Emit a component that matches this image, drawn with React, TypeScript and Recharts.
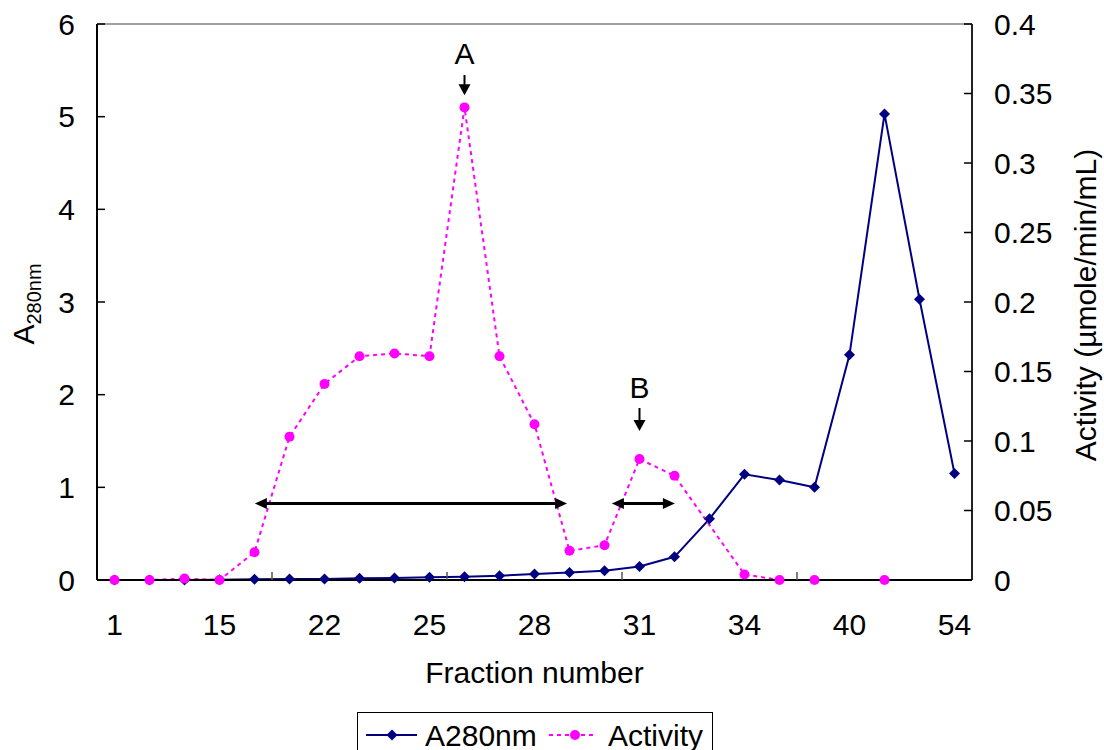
import React from 'react';
import { ComposedChart, Line, XAxis, YAxis, ReferenceLine, Legend } from 'recharts';

const fractions = [1, 5, 10, 15, 18, 20, 22, 23, 24, 25, 26, 27, 28, 29, 30, 31, 32, 33, 34, 36, 38, 40, 42, 46, 54];
const a280 = [0, 0, 0, 0.004, 0.008, 0.01, 0.012, 0.018, 0.022, 0.029, 0.036, 0.046, 0.065, 0.08, 0.1, 0.145, 0.25, 0.66, 1.14, 1.08, 1.0, 2.43, 5.03, 3.03, 1.15];
const activity: (number | null)[] = [0, 0, 0.001, 0, 0.02, 0.103, 0.141, 0.161, 0.163, 0.161, 0.34, 0.161, 0.112, 0.021, 0.025, 0.087, 0.075, null, 0.004, 0, 0, null, 0, null, null];
const seriesNames = ['A280nm', 'Activity'];
const leftTicks = [0, 1, 2, 3, 4, 5, 6];
const rightTicks = [0, 0.05, 0.1, 0.15, 0.2, 0.25, 0.3, 0.35, 0.4];
const labelIndices = [0, 3, 6, 9, 12, 15, 18, 21, 24];
const tickMarkIndices = [4.5, 9.5, 14.5, 19.5];

const spanAnnotations = [
  { from: 4.01, to: 12.93, level: 0.825 },
  { from: 14.21, to: 16.01, level: 0.825 },
];
const peakAnnotations = [
  { label: 'A', at: 10, top: 5.45, tip: 5.23 },
  { label: 'B', at: 15, top: 1.856, tip: 1.608 },
];

const data = fractions.map((f, i) => ({ idx: i, fraction: f, a280: a280[i], activity: activity[i] }));

const FONT = '"Liberation Sans", Arial, Helvetica, sans-serif';
const NAVY = '#000080';
const PINK = '#FF00FF';
const FS = 30;

const XTick = (props: any) => {
  const { x, y, payload } = props;
  const v = payload.value;
  if (Number.isInteger(v)) {
    return (
      <text x={x} y={y + 44} dy="0.35em" textAnchor="middle" fontSize={FS} fontFamily={FONT} fill="#000">
        {fractions[v]}
      </text>
    );
  }
  return <line x1={x} y1={y} x2={x} y2={y - 8} stroke="#555" strokeWidth={1.5} />;
};

const LeftTick = (props: any) => {
  const { x, y, payload } = props;
  return (
    <g>
      <line x1={x} y1={y} x2={x + 8} y2={y} stroke="#000" strokeWidth={1.5} />
      <text x={x - 22} y={y} dy="0.35em" textAnchor="end" fontSize={FS} fontFamily={FONT} fill="#000">
        {payload.value}
      </text>
    </g>
  );
};

const RightTick = (props: any) => {
  const { x, y, payload } = props;
  return (
    <g>
      <line x1={x - 8} y1={y} x2={x} y2={y} stroke="#000" strokeWidth={1.5} />
      <text x={x + 22} y={y} dy="0.35em" textAnchor="start" fontSize={FS} fontFamily={FONT} fill="#000">
        {String(payload.value)}
      </text>
    </g>
  );
};

const LeftTitle = () => (
  <text x={34} y={304} transform="rotate(-90, 34, 304)" textAnchor="middle" fontSize={FS} fontFamily={FONT} fill="#000">
    A<tspan fontSize={20} dy={7}>280nm</tspan>
  </text>
);

const RightTitle = () => (
  <text x={1096} y={305} transform="rotate(-90, 1096, 305)" textAnchor="middle" fontSize={FS} fontFamily={FONT} fill="#000">
    Activity (µmole/min/mL)
  </text>
);

const DiamondDot = (props: any) => {
  const { cx, cy, index } = props;
  if (cx == null || cy == null) return <g key={`d${index}`} />;
  const s = 5.5;
  return (
    <polygon key={`d${index}`} points={`${cx},${cy - s} ${cx + s},${cy} ${cx},${cy + s} ${cx - s},${cy}`} fill={NAVY} stroke="none" />
  );
};

const CircleDot = (props: any) => {
  const { cx, cy, index } = props;
  if (cx == null || cy == null) return <g key={`c${index}`} />;
  return <circle key={`c${index}`} cx={cx} cy={cy} r={5} fill={PINK} stroke="none" />;
};

const HArrow = (p: any) => {
  const { x1, y1, x2, y2 } = p;
  const L = 12;
  const W = 5.5;
  return (
    <g>
      <line x1={x1 + L - 1} y1={y1} x2={x2 - L + 1} y2={y2} stroke="#000" strokeWidth={3} />
      <polygon points={`${x1},${y1} ${x1 + L},${y1 - W} ${x1 + L},${y1 + W}`} fill="#000" />
      <polygon points={`${x2},${y2} ${x2 - L},${y2 - W} ${x2 - L},${y2 + W}`} fill="#000" />
    </g>
  );
};

const makeDownArrow = (label: string) => (p: any) => {
  const { x1, y1, y2 } = p;
  const L = 11;
  const W = 6;
  return (
    <g>
      <line x1={x1} y1={y1} x2={x1} y2={y2 - L + 1} stroke="#000" strokeWidth={2} />
      <polygon points={`${x1 - W},${y2 - L} ${x1 + W},${y2 - L} ${x1},${y2}`} fill="#000" />
      <text x={x1} y={y1 - 21} dy="0.35em" textAnchor="middle" fontSize={FS} fontFamily={FONT} fill="#000">
        {label}
      </text>
    </g>
  );
};

const LegendBox = () => (
  <div style={{ width: 356, height: 48, border: '1.5px solid #000', background: '#fff', boxSizing: 'border-box' }}>
    <svg width={353} height={45} style={{ display: 'block' }}>
      <line x1={8} y1={22} x2={59} y2={22} stroke={NAVY} strokeWidth={2} />
      <polygon points="34,16.5 39.5,22 34,27.5 28.5,22" fill={NAVY} />
      <text x={67} y={22} dy="0.35em" fontSize={FS} fontFamily={FONT} fill="#000">{seriesNames[0]}</text>
      <line x1={191} y1={22} x2={238} y2={22} stroke={PINK} strokeWidth={2} strokeDasharray="4 4" />
      <circle cx={217} cy={22} r={5} fill={PINK} />
      <text x={250} y={22} dy="0.35em" fontSize={FS} fontFamily={FONT} fill="#000">{seriesNames[1]}</text>
    </svg>
  </div>
);

export default function App() {
  return (
    <div style={{ position: 'absolute', left: 0, top: 0, width: 1104, height: 750, overflow: 'hidden', background: '#fff' }}>
      <ComposedChart width={1104} height={750} data={data} margin={{ top: 24, right: 0, bottom: 0, left: 0 }}>
        <XAxis
          dataKey="idx"
          type="number"
          domain={[-0.5, 24.5]}
          ticks={[...labelIndices, ...tickMarkIndices]}
          interval={0}
          tickLine={false}
          tickSize={0}
          tickMargin={0}
          tick={<XTick />}
          axisLine={{ stroke: '#000', strokeWidth: 2 }}
          height={170}
          allowDataOverflow
          label={{ value: 'Fraction number', position: 'insideTop', offset: 82, fontSize: FS, fontFamily: FONT, fill: '#000' }}
        />
        <YAxis
          yAxisId="left"
          orientation="left"
          domain={[0, 6]}
          ticks={leftTicks}
          interval={0}
          width={97}
          tickLine={false}
          tickSize={0}
          tickMargin={0}
          tick={<LeftTick />}
          axisLine={{ stroke: '#000', strokeWidth: 2 }}
          label={<LeftTitle />}
        />
        <YAxis
          yAxisId="right"
          orientation="right"
          domain={[0, 0.4]}
          ticks={rightTicks}
          interval={0}
          width={132}
          tickLine={false}
          tickSize={0}
          tickMargin={0}
          tick={<RightTick />}
          axisLine={{ stroke: '#222', strokeWidth: 2 }}
          label={<RightTitle />}
        />
        <ReferenceLine yAxisId="left" y={6} stroke="#808080" strokeWidth={1.5} />
        <Line
          yAxisId="left"
          dataKey="a280"
          name={seriesNames[0]}
          stroke={NAVY}
          strokeWidth={2}
          dot={DiamondDot}
          activeDot={false}
          isAnimationActive={false}
        />
        <Line
          yAxisId="right"
          dataKey="activity"
          name={seriesNames[1]}
          stroke={PINK}
          strokeWidth={2}
          strokeDasharray="4 4"
          connectNulls
          dot={CircleDot}
          activeDot={false}
          isAnimationActive={false}
        />
        {spanAnnotations.map((s, i) => (
          <ReferenceLine
            key={`span${i}`}
            yAxisId="left"
            segment={[{ x: s.from, y: s.level }, { x: s.to, y: s.level }]}
            shape={HArrow}
          />
        ))}
        {peakAnnotations.map((a, i) => (
          <ReferenceLine
            key={`peak${i}`}
            yAxisId="left"
            segment={[{ x: a.at, y: a.top }, { x: a.at, y: a.tip }]}
            shape={makeDownArrow(a.label)}
          />
        ))}
        <Legend
          verticalAlign="middle"
          align="center"
          layout="horizontal"
          content={<LegendBox />}
          wrapperStyle={{ left: 357, top: 712, width: 356, height: 48 }}
        />
      </ComposedChart>
    </div>
  );
}
